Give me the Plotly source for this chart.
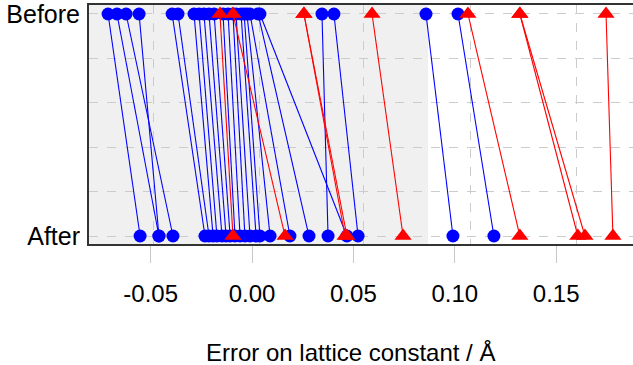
import plotly.graph_objects as go

# Blue series (circles): error before and after
blue_before = [-0.0710, -0.0666, -0.0621, -0.0557, -0.0394, -0.0365, -0.0286, -0.0261,
               -0.0237, -0.0212, -0.0187, -0.0143, -0.0118, -0.0094, -0.0079, -0.0054,
               -0.0039, -0.0025, -0.0010, 0.0030, 0.0039, 0.0345, 0.0404, 0.0858, 0.1016]
blue_after = [-0.0552, -0.0459, -0.0390, -0.0459, -0.0232, -0.0212, -0.0192, -0.0173,
              -0.0148, -0.0128, -0.0108, -0.0084, -0.0059, -0.0035, -0.0010, 0.0020,
              0.0039, 0.0089, 0.0187, 0.0281, 0.0468, 0.0375, 0.0523, 0.0991, 0.1193]

# Red series (triangles)
red_before = [-0.0158, -0.0094, 0.0256, 0.0256, 0.0592, 0.1065, 0.1321, 0.1321, 0.1746]
red_after = [-0.0094, 0.0163, 0.0459, 0.0468, 0.0745, 0.1321, 0.1607, 0.1642, 0.1780]

x_ticks = [-0.05, 0.00, 0.05, 0.10, 0.15]
x_ticktext = ["-0.05", "0.00", "0.05", "0.10", "0.15"]
x_grid = [-0.0486, 0.0036, 0.0552, 0.1076, 0.1601]
y_ticks = [0, 0.2, 0.4, 0.6, 0.8, 1.0]
y_ticktext = ["After", "", "", "", "", "Before"]
shade_end = 0.0868
x_range = [-0.0804, 0.1879]
y_range = [-0.036, 1.0405]


def pairs(before, after):
    xs, ys = [], []
    for b, a in zip(before, after):
        xs += [b, a, None]
        ys += [1, 0, None]
    return xs, ys


fig = go.Figure()
bx, by = pairs(blue_before, blue_after)
fig.add_trace(go.Scatter(x=bx, y=by, mode="lines+markers",
                         line=dict(color="#0000ff", width=1.1),
                         marker=dict(symbol="circle", size=13, color="#0000ff"),
                         showlegend=False, hoverinfo="skip", cliponaxis=False))
rx, ry = pairs(red_before, red_after)
fig.add_trace(go.Scatter(x=rx, y=ry, mode="lines+markers",
                         line=dict(color="#ff0000", width=1.1),
                         marker=dict(symbol="triangle-up", size=15, color="#ff0000"),
                         showlegend=False, hoverinfo="skip", cliponaxis=False))
# invisible trace to carry the grid axis
fig.add_trace(go.Scatter(x=[None], y=[None], xaxis="x2", showlegend=False, hoverinfo="skip"))

fig.add_shape(type="rect", xref="x", yref="paper", x0=x_range[0], x1=shade_end,
              y0=0, y1=1, fillcolor="#f0f0f0", line=dict(width=0), layer="below")

font = "Liberation Sans, Arial, sans-serif"
fig.update_layout(
    width=633, height=365,
    margin=dict(l=89, r=0, t=5, b=121, autoexpand=False),
    paper_bgcolor="white", plot_bgcolor="white",
    font=dict(family=font, color="black"),
    xaxis=dict(range=x_range, tickvals=x_ticks, ticktext=x_ticktext,
               showgrid=False, zeroline=False, automargin=False,
               showline=True, linecolor="#333333", linewidth=2, mirror=True,
               ticks="outside", ticklen=17, tickwidth=1, tickcolor="#c8c8c8",
               tickfont=dict(size=24, family=font), ticklabelstandoff=10),
    xaxis2=dict(range=x_range, overlaying="x", tickvals=x_grid, showticklabels=False,
                showgrid=True, gridcolor="#cccccc", gridwidth=0.8, griddash="dash",
                zeroline=False, showline=False, ticks="", side="bottom", automargin=False),
    yaxis=dict(range=y_range, tickvals=y_ticks, ticktext=y_ticktext,
               showgrid=True, gridcolor="#cccccc", gridwidth=0.8, griddash="dash",
               zeroline=False, showline=True, linecolor="#333333", linewidth=2,
               automargin=False, ticks="", tickfont=dict(size=25, family=font),
               ticklabelstandoff=2, ticklabeloverflow="allow"),
    annotations=[dict(text="Error on lattice constant / Å", xref="paper", yref="paper",
                      x=0.48, y=-0.456, xanchor="center", yanchor="middle",
                      showarrow=False, font=dict(size=24, family=font))],
)

fig.write_html("out.html", config={"displayModeBar": False},
               post_script="document.body.style.margin='0';")
